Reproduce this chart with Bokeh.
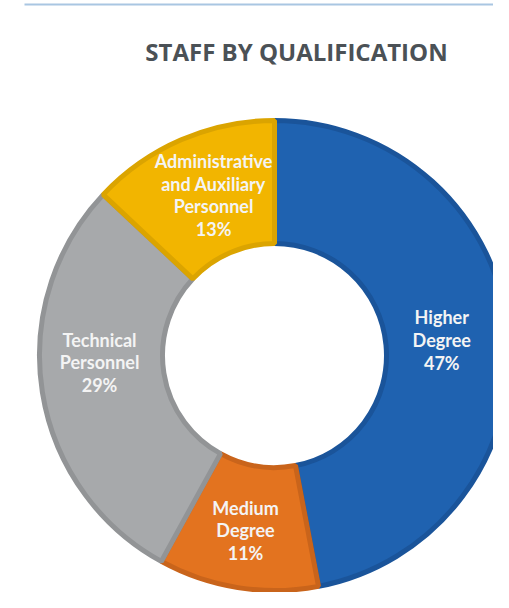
import math
from bokeh.plotting import figure
from bokeh.models import Range1d
from bokeh.core.properties import value
from bokeh.embed import file_html
from bokeh.resources import INLINE

categories = ["Higher\nDegree", "Medium\nDegree", "Technical\nPersonnel", "Administrative\nand Auxiliary\nPersonnel"]
shares = [47, 11, 29, 13]
fill_colors = ["#1f62b0", "#e3731f", "#a7a9ab", "#f2b500"]
edge_colors = ["#1a549a", "#c9641b", "#929496", "#dba400"]
title = "STAFF BY QUALIFICATION"

W, H = 493, 592
TOP = 608  # data y = TOP - image row
p = figure(width=W, height=H, output_backend="svg", toolbar_location=None,
           x_range=Range1d(0, W), y_range=Range1d(TOP - H, TOP),
           min_border=0, outline_line_color=None, background_fill_color="white")
p.axis.visible = False
p.grid.visible = False

# top rule
p.line(x=[24, W], y=[TOP - 4, TOP - 4], line_color="#a9c6e2", line_width=2)

cx, cy = 274, TOP - 355
r_out, r_in = 235, 112
label_r = 166
nudges = [(2, 0), (-3, -11), (-11, 19), (5, 8)]  # small layout tweaks (x, y) in px
total = sum(shares)
start = math.pi / 2
starts, ends, lx, ly, labels = [], [], [], [], []
for (cat, s), (dx, dy) in zip(zip(categories, shares), nudges):
    span = 2 * math.pi * s / total
    end = start - span
    starts.append(end)
    ends.append(start)
    mid = (start + end) / 2
    lx.append(cx + label_r * math.cos(mid) + dx)
    ly.append(cy + label_r * math.sin(mid) + dy)
    labels.append(f"{cat}\n{s}%")
    start = end

p.annular_wedge(x=cx, y=cy, inner_radius=r_in, outer_radius=r_out,
                start_angle=starts, end_angle=ends,
                fill_color=fill_colors, line_color=edge_colors, line_width=5)

p.text(x=lx, y=ly, text=labels, text_align="center", text_baseline="middle",
       text_font=value("Lato"), text_font_style="bold", text_font_size="18px",
       text_color="#f4f4f4", text_line_height=1.03)

p.text(x=[296], y=[TOP - 51], text=[title], text_align="center", text_baseline="middle",
       text_font=value("Open Sans"), text_font_style="bold", text_font_size="24px",
       text_color="#4b5156")

open("out.html", "w").write(file_html(p, INLINE))
